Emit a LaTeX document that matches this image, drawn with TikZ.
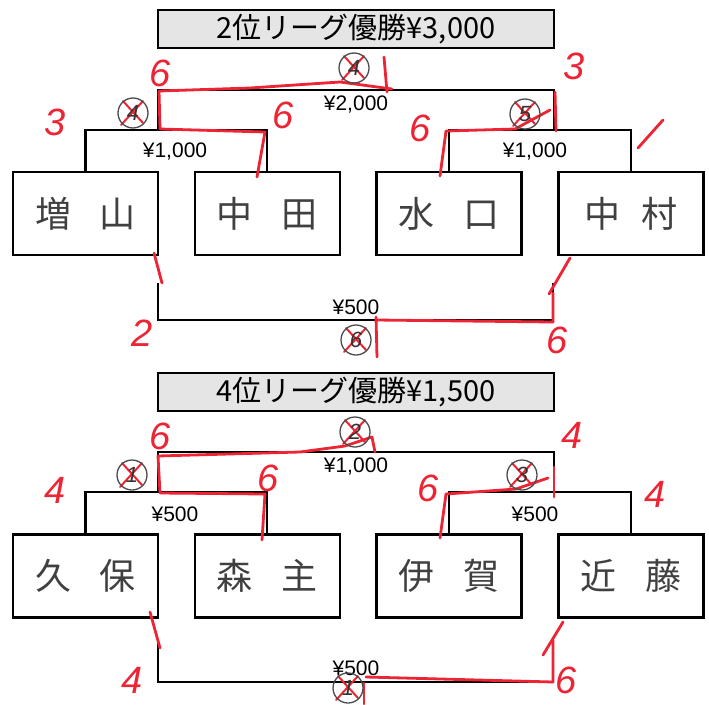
\documentclass[tikz,border=0pt]{standalone}
\usepackage{fontspec}
\setmainfont{Liberation Sans}
\newfontfamily\jp{Noto Sans CJK JP}
\usetikzlibrary{positioning}
\definecolor{redink}{RGB}{236,36,52}

\begin{document}
\begin{tikzpicture}[x=1pt,y=-1pt,line width=2.3pt,node distance=34.5pt,
    title/.style={draw,fill=black!10,minimum width=396pt,minimum height=38pt,inner sep=0pt,font=\jp\fontsize{29}{29}\selectfont},
    player/.style={draw,minimum width=145pt,minimum height=83pt,inner sep=0pt,text=black!75,font=\jp\fontsize{36}{36}\selectfont},
    prize/.style={inner sep=0pt,font=\fontsize{21}{21}\selectfont},
    score/.style={inner sep=0pt,text=redink,font=\itshape\fontsize{38}{38}\selectfont},
    redpen/.style={draw=redink,line width=2.8pt,line cap=round,line join=round},
    court/.style={draw=black!70,circle,line width=1.3pt,minimum size=30pt,inner sep=0pt,text=black!80,font=\itshape\fontsize{22}{22}\selectfont}]

    \useasboundingbox (0,0) rectangle (709,704);

    \node[title] (t1) at (356,29) {2位リーグ優勝¥3,000};

    \node[player] (p1) at (85.5,213.5) {増\hspace{.8em}山};
    \node[player] (p2) [right=of p1] {中\hspace{.8em}田};
    \node[player] (p3) [right=of p2] {水\hspace{.8em}口};
    \node[player] (p4) [right=of p3] {中\hspace{.6em}村};

    \coordinate (s1) at (175,130);
    \coordinate (s2) at (535,130);
    \coordinate (fl) at (158,130);
    \coordinate (fr) at (554,130);
    \coordinate (f1) at (356,90);
    \coordinate (tl) at (158,283);
    \coordinate (tr) at (553,283);
    \coordinate (b1) at (356,320);

    \draw (p1.north) |- (s1) -| (p2.north);
    \draw (p3.north) |- (s2) -| (p4.north);
    \draw (fl) |- (f1) -| (fr);
    \draw (tl) |- (b1) -| (tr);

    \node[prize] (w1) at (356,105) {¥2,000};
    \node[prize] (w2) at (175,152) {¥1,000};
    \node[prize] (w3) at (535,152) {¥1,000};
    \node[prize] (w4) at (356,307) {¥500};

    \draw[redpen] (257,177) -- (265,132) -- (160,129) -- (159,91) -- (250,88) -- (340,82) -- (392,89);
    \draw[redpen] (384,57) -- (387,92);
    \draw[redpen] (440,176) -- (446,131) -- (515,129) -- (550,110);
    \draw[redpen] (555,92) -- (556,131);
    \draw[redpen] (663,120) -- (638,148);
    \draw[redpen] (154,253) -- (162,283);
    \draw[redpen] (570,258) -- (549,294);
    \draw[redpen] (553,293) -- (553,322) -- (376,320);
    \draw[redpen] (376,317) -- (377,357);

    \node[score] at (160,73) {6};
    \node[score] at (574,66) {3};
    \node[score] at (55,122) {3};
    \node[score] at (283,115) {6};
    \node[score] at (420,128) {6};
    \node[score] at (142,333) {2};
    \node[score] at (557,340) {6};

    \node[title] (t2) at (356,392) {4位リーグ優勝¥1,500};

    \node[player] (p5) at (85.5,576) {久\hspace{.8em}保};
    \node[player] (p6) [right=of p5] {森\hspace{.8em}主};
    \node[player] (p7) [right=of p6] {伊\hspace{.8em}賀};
    \node[player] (p8) [right=of p7] {近\hspace{.8em}藤};

    \coordinate (s3) at (175,492);
    \coordinate (s4) at (535,492);
    \coordinate (gl) at (158,492);
    \coordinate (gr) at (554,492);
    \coordinate (f2) at (356,452);
    \coordinate (ul) at (158,640);
    \coordinate (ur) at (553,640);
    \coordinate (b2) at (356,682);

    \draw (p5.north) |- (s3) -| (p6.north);
    \draw (p7.north) |- (s4) -| (p8.north);
    \draw (gl) |- (f2) -| (gr);
    \draw (ul) |- (b2) -| (ur);

    \node[prize] (w5) at (356,467) {¥1,000};
    \node[prize] (w6) at (175,514) {¥500};
    \node[prize] (w7) at (535,514) {¥500};
    \node[prize] (w8) at (356,668) {¥500};

    \draw[redpen] (262,540) -- (265,494) -- (160,493) -- (158,456) -- (300,452) -- (345,446) -- (372,437) -- (375,452);
    \draw[redpen] (440,538) -- (446,494) -- (516,489) -- (548,478);
    \draw[redpen] (554,467) -- (554,497);
    \draw[redpen] (150,612) -- (160,648);
    \draw[redpen] (563,622) -- (543,655);
    \draw[redpen] (553,640) -- (553,682) -- (366,677);
    \draw[redpen] (364,683) -- (364,704);

    \foreach \c/\n/\p in {c1/4/{(354,68)},c2/4/{(133,113)},c3/5/{(525,114)},c4/6/{(356,340)},
                          c5/2/{(355,432)},c6/1/{(132,475)},c7/3/{(522,475)},c8/1/{(348,688)}} {
        \draw[redpen,line width=2pt] \p ++(-12,12) -- ++(22,-24) \p ++(-10,-12) -- ++(20,22);
        \node[court] (\c) at \p {\n};
    }

    \node[score] at (160,436) {6};
    \node[score] at (572,435) {4};
    \node[score] at (55,490) {4};
    \node[score] at (268,478) {6};
    \node[score] at (428,488) {6};
    \node[score] at (655,494) {4};
    \node[score] at (132,680) {4};
    \node[score] at (566,680) {6};

\end{tikzpicture}
\end{document}
